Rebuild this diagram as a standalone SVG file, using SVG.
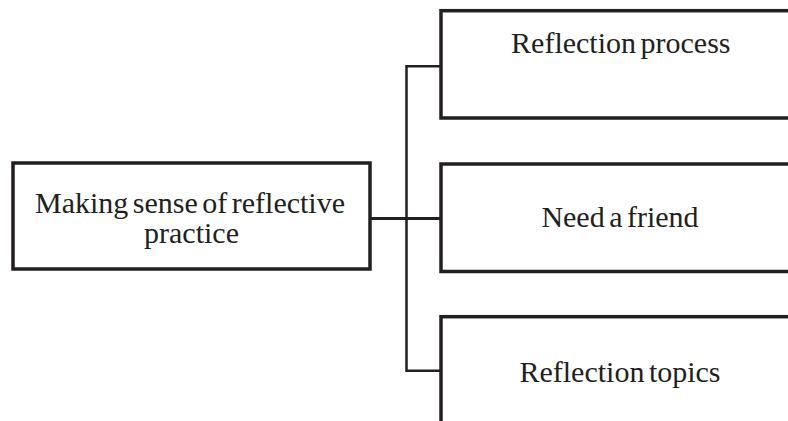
<svg xmlns="http://www.w3.org/2000/svg" width="788" height="421" viewBox="0 0 788 421">
<style>
.box{fill:#fff;stroke:#231f20;stroke-width:3.5}
.lbl{font-family:"Liberation Serif","Times New Roman",serif;font-size:30px;fill:#231f20;text-anchor:middle;word-spacing:-3px}
.con{fill:none;stroke:#231f20;stroke-width:2.5}
</style>
<rect width="788" height="421" fill="#fff"/>
<g id="connectors">
<path class="con" d="M370 218.5H441" style="stroke-width:3"/>
<path class="con" d="M441 66.3H406.5V370.7H441"/>
</g>
<g id="main">
<rect class="box" x="13" y="163" width="357" height="106"/>
<text class="lbl" x="190" y="212.7">Making sense of reflective</text>
<text class="lbl" x="191.5" y="242.7">practice</text>
</g>
<g id="process">
<rect class="box" x="441" y="10.7" width="360" height="107.3"/>
<text class="lbl" x="620.8" y="53.3">Reflection process</text>
</g>
<g id="friend">
<rect class="box" x="441" y="164" width="360" height="107.5"/>
<text class="lbl" x="620" y="227.3">Need a friend</text>
</g>
<g id="topics">
<rect class="box" x="441" y="316.7" width="360" height="120"/>
<text class="lbl" x="620" y="381.7">Reflection topics</text>
</g>
</svg>
